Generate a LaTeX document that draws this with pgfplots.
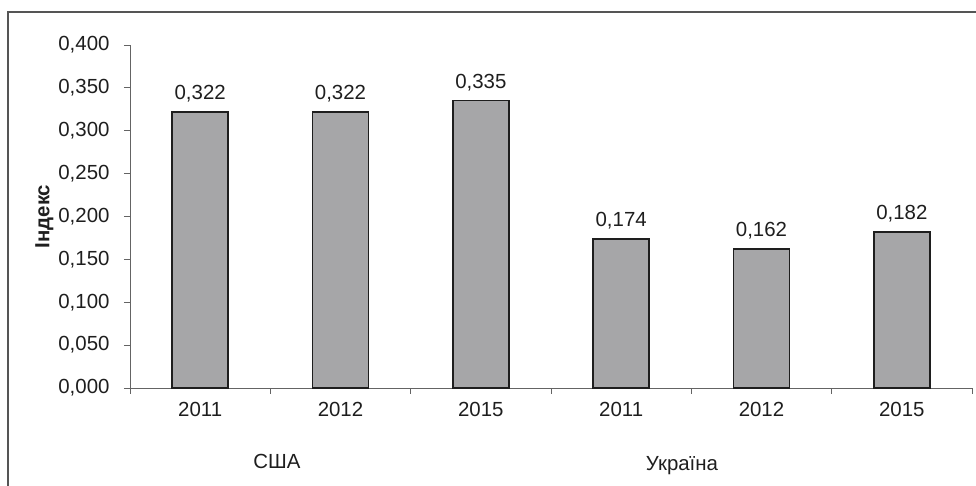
\documentclass[border=0pt]{standalone}
\usepackage{pgfplots}
\pgfplotsset{compat=1.18}
\usepackage{fontspec}
\setmainfont{Liberation Sans}
\definecolor{barfill}{RGB}{166,166,168}
\definecolor{bardraw}{RGB}{30,30,30}
\definecolor{axisgray}{RGB}{100,100,100}
\definecolor{framegray}{RGB}{85,85,85}
\definecolor{txt}{RGB}{30,30,30}
\begin{document}
\begin{tikzpicture}
\begin{axis}[
  at={(130bp,98bp)}, anchor=south west,
  scale only axis,
  width=842bp, height=343bp,
  xmin=-0.5, xmax=5.5,
  ymin=0, ymax=0.4,
  axis lines*=left,
  axis line style={axisgray, line width=0.8bp},
  xtick={0,1,2,3,4,5},
  xticklabels={2011,2012,2015,2011,2012,2015},
  major x tick style={draw=none},
  minor xtick={-0.5,0.5,1.5,2.5,3.5,4.5,5.5},
  minor x tick style={axisgray, line width=0.8bp},
  minor tick length=6bp,
  ytick={0,0.05,0.1,0.15,0.2,0.25,0.3,0.35,0.4},
  y tick style={axisgray, line width=0.8bp},
  major tick length=6bp,
  tick align=outside,
  tick label style={font=\fontsize{20.5}{24}\selectfont, text=txt},
  xticklabel style={yshift=-5bp},
  yticklabel style={xshift=-11bp},
  /pgf/number format/assume math mode=true,
  y tick label style={/pgf/number format/.cd, fixed, fixed zerofill, precision=3, use comma},
  ylabel={Індекс},
  ylabel style={font=\fontsize{20.5}{24}\selectfont\bfseries, text=txt, yshift=-2bp},
  ybar, bar width=0.4,
  nodes near coords,
  nodes near coords style={font=\fontsize{20.5}{24}\selectfont, text=txt, yshift=6bp, /pgf/number format/.cd, fixed, fixed zerofill, precision=3, use comma, assume math mode=true},
  clip=false,
]
\addplot[fill=barfill, draw=bardraw, line width=1.5bp] coordinates {
  (0,0.322) (1,0.322) (2,0.335) (3,0.174) (4,0.162) (5,0.182)
};
\end{axis}
\node[font=\fontsize{20.5}{24}\selectfont, text=txt] at (277bp,25bp) {США};
\node[font=\fontsize{20.5}{24}\selectfont, text=txt] at (682bp,20bp) {Україна};
\draw[framegray, line width=2bp] (8bp,-10bp) -- (8bp,474bp) -- (990bp,474bp);
\pgfresetboundingbox
\useasboundingbox (0,0) rectangle (976bp,486bp);
\end{tikzpicture}
\end{document}
